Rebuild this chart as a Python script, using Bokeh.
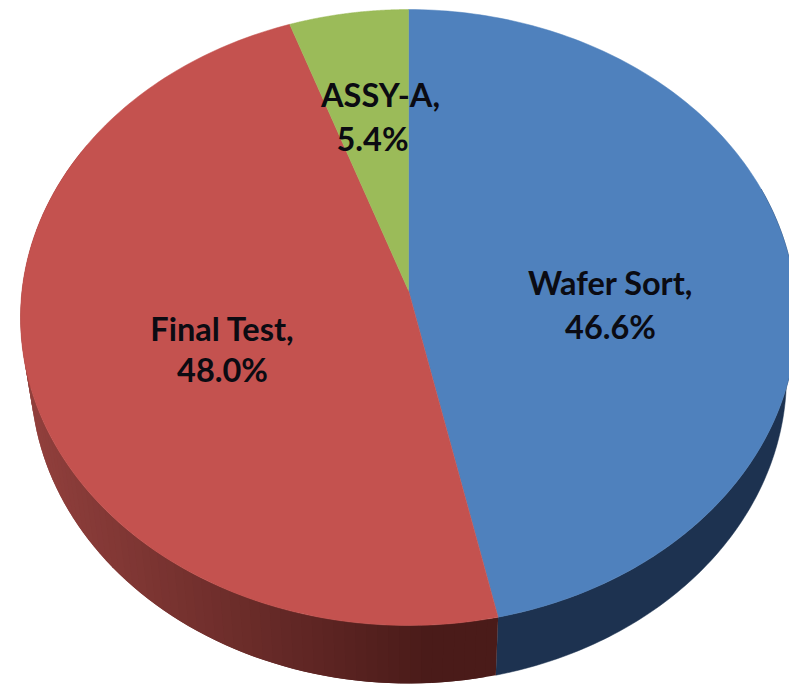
import numpy as np
from bokeh.plotting import figure
from bokeh.models import Range1d, ColumnDataSource
from bokeh.embed import file_html
from bokeh.resources import INLINE
from bokeh.core.properties import value

# ---- data ----
names = ["Wafer Sort", "Final Test", "ASSY-A"]
shares = [46.6, 48.0, 5.4]
top_colors = ["#4f81bd", "#c4524f", "#9bbb59"]

# ---- layout (pixel coordinates of the reference) ----
K = -0.0877
TOP = dict(cx=408.0, y0=290.0, a=386.5, b=305.6)
BOT = dict(cx=408.0, y0=349.0, a=376.5, b=304.7)
label_x = [610.0, 222.0, 380.0]
label_y1 = [294.0, 340.0, 106.0]
label_y2 = [338.0, 381.0, 150.0]
label_x2 = [610.0, 222.0, 372.0]


def project(theta_deg, g):
    """Perspective view of a circle; theta is clockwise from the top."""
    t = np.radians(theta_deg)
    u, v = np.sin(t), -np.cos(t)
    d = 1 + K * v
    return g["cx"] + g["a"] * u / d, g["y0"] + g["b"] * v / d


def mix(c1, c2, f):
    f = min(max(f, 0.0), 1.0)
    rgb = [int(round(c1[i] + (c2[i] - c1[i]) * f)) for i in range(3)]
    return "#%02x%02x%02x" % tuple(rgb)


p = figure(width=789, height=685, output_backend="svg", toolbar_location=None,
           x_range=Range1d(0, 789), y_range=Range1d(685, 0), min_border=0,
           background_fill_color="white", border_fill_color="white")
p.axis.visible = False
p.grid.visible = False
p.outline_line_color = None

edges = np.cumsum([0.0] + shares) * 3.6

# side wall: blue part is flat, red part gets a left-to-right gradient
th = np.linspace(70.0, edges[1], 120)
xt, yt = project(th, TOP)
xb, yb = project(th, BOT)
p.patch(np.r_[xt, xb[::-1]], np.r_[yt, yb[::-1]],
        fill_color="#1d3250", line_color="#1d3250", line_width=0.5)

steps = np.arange(edges[1], 300.0, 1.5)
xs, ys, cols = [], [], []
for a0, a1 in zip(steps[:-2], steps[2:]):
    xt0, yt0 = project(a0, TOP)
    xt1, yt1 = project(a1, TOP)
    xb0, yb0 = project(a0, BOT)
    xb1, yb1 = project(a1, BOT)
    xs.append([xt0, xt1, xb1, xb0])
    ys.append([yt0, yt1, yb1, yb0])
    f = ((xb0 + xb1) / 2 - 30.0) / (420.0 - 30.0)
    cols.append(mix((146, 64, 61), (74, 27, 25), f))
p.patches(xs, ys, fill_color=cols, line_color=None)

# top face
for i in range(3):
    th = np.linspace(edges[i], edges[i + 1], 160)
    ex, ey = project(th, TOP)
    p.patch(np.r_[TOP["cx"], ex], np.r_[TOP["y0"], ey],
            fill_color=top_colors[i], line_color=top_colors[i], line_width=0.5)

# labels
line1 = [f"{n}," for n in names]
line2 = [f"{s:.1f}%" for s in shares]
src = ColumnDataSource(dict(x=label_x + label_x2,
                            y=[y - 12 for y in label_y1] + [y - 12 for y in label_y2],
                            t=line1 + line2))
p.text("x", "y", text="t", source=src, text_font=value("Lato"),
       text_font_style="bold", text_font_size="32.5px", text_color="#0b0b12",
       text_align="center", text_baseline="alphabetic")

open("out.html", "w").write(file_html(p, INLINE))
